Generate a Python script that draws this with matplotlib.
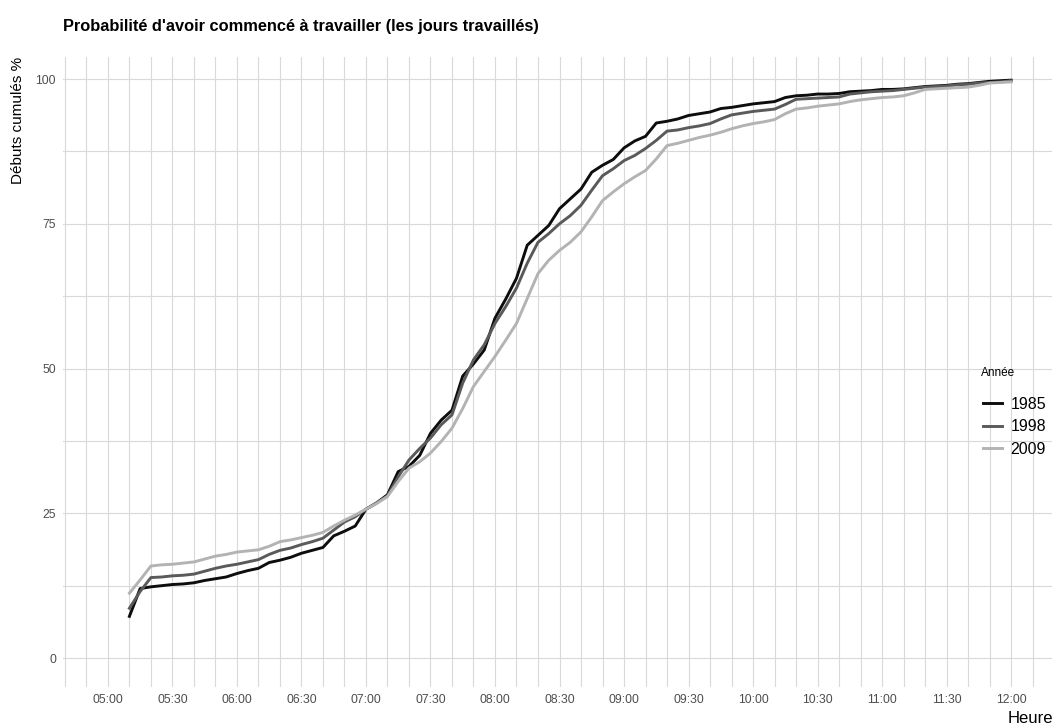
import numpy as np
import matplotlib
matplotlib.use("Agg")
import matplotlib.pyplot as plt
from matplotlib.ticker import FixedLocator, FuncFormatter

plt.rcParams['font.family'] = ['Liberation Sans', 'DejaVu Sans']

# heures de début (minutes depuis minuit), pas de 5 minutes de 05:10 à 12:00
heures = np.arange(310, 721, 5)

annees = ['1985', '1998', '2009']

debuts_1985 = [7.2, 12.0, 12.3, 12.5, 12.7, 12.8, 13.0, 13.4, 13.7, 14.0, 14.6, 15.1, 15.5, 16.5, 16.9, 17.4, 18.1, 18.6, 19.1, 21.1, 21.9, 22.8,
               25.7, 26.8, 28.2, 32.2, 33.1, 35.0, 38.8, 41.1, 42.8, 48.7, 50.8, 53.2, 58.7, 62.0, 65.6, 71.3, 73.0,
               74.7, 77.6, 79.3, 81.0, 83.9, 85.1, 86.1, 88.1, 89.3, 90.1, 92.4, 92.7, 93.1, 93.7, 94.0, 94.3, 94.9, 95.1, 95.4, 95.7, 95.9,
               96.1, 96.8, 97.1, 97.2, 97.4, 97.4, 97.5, 97.8, 97.9, 98.0, 98.2, 98.2, 98.3, 98.5, 98.7, 98.8, 98.9, 99.1, 99.2, 99.4, 99.6, 99.7, 99.8]

debuts_1998 = [8.6, 11.5, 13.9, 14.0, 14.2, 14.3, 14.5, 15.0, 15.5, 15.9, 16.2, 16.6, 17.0, 17.9, 18.6, 19.0, 19.6, 20.1, 20.7, 22.1, 23.5, 24.4,
               25.7, 26.8, 28.0, 31.3, 34.2, 36.2, 38.0, 40.3, 42.0, 47.5, 51.5, 54.1, 57.8, 60.7, 63.9, 68.2, 71.8,
               73.3, 75.0, 76.4, 78.2, 80.8, 83.3, 84.5, 85.9, 86.8, 88.0, 89.4, 91.0, 91.2, 91.6, 91.9, 92.3, 93.1, 93.8, 94.1, 94.4, 94.6,
               94.8, 95.6, 96.5, 96.6, 96.7, 96.8, 96.9, 97.4, 97.6, 97.8, 97.9, 98.0, 98.2, 98.4, 98.6, 98.7, 98.8, 99.0, 99.1, 99.3, 99.4, 99.5, 99.7]

debuts_2009 = [11.2, 13.5, 15.9, 16.1, 16.2, 16.4, 16.6, 17.1, 17.6, 17.9, 18.3, 18.5, 18.7, 19.3, 20.1, 20.4, 20.8, 21.2, 21.7, 22.8, 23.8, 24.7,
               25.7, 26.7, 27.9, 30.5, 32.8, 33.9, 35.4, 37.4, 39.7, 43.1, 46.9, 49.5, 52.1, 54.9, 57.8, 62.1, 66.4,
               68.7, 70.4, 71.8, 73.6, 76.2, 79.0, 80.5, 81.9, 83.1, 84.2, 86.2, 88.5, 88.9, 89.4, 89.9, 90.3, 90.8, 91.4, 91.9, 92.3, 92.6,
               93.0, 94.0, 94.8, 95.0, 95.3, 95.5, 95.7, 96.1, 96.4, 96.6, 96.8, 96.9, 97.1, 97.6, 98.2, 98.3, 98.4, 98.5, 98.6, 98.9, 99.3, 99.4, 99.5]

couleurs = ['#0d0d0d', '#5a5a5a', '#b3b3b3']

fig = plt.figure(figsize=(10.58, 7.27), dpi=100)
ax = fig.add_axes([0.0595, 0.055, 0.935, 0.8666])

for annee, serie, c in zip(annees, [debuts_1985, debuts_1998, debuts_2009], couleurs):
    ax.plot(heures, serie, color=c, lw=2.1, label=annee)

ax.set_xlim(279.1, 739.1)
ax.set_ylim(-5.0, 103.8)

# grille : toutes les 10 minutes, et tous les 12.5 %
ax.xaxis.set_major_locator(FixedLocator(np.arange(300, 721, 30)))
ax.xaxis.set_minor_locator(FixedLocator(np.arange(270, 750, 10)))
ax.xaxis.set_major_formatter(FuncFormatter(lambda m, p: f"{int(m // 60):02d}:{int(m % 60):02d}"))
ax.yaxis.set_major_locator(FixedLocator([0, 25, 50, 75, 100]))
ax.yaxis.set_minor_locator(FixedLocator([12.5, 37.5, 62.5, 87.5]))
ax.grid(True, which='both', color='#d9d9d9', lw=0.8)
ax.set_axisbelow(True)
for s in ax.spines.values():
    s.set_visible(False)
ax.tick_params(which='both', length=0)
ax.tick_params(axis='x', labelsize=8.8, labelcolor='#4d4d4d', pad=5)
ax.tick_params(axis='y', labelsize=8.8, labelcolor='#4d4d4d', pad=5)

fig.text(0.0595, 0.963, "Probabilité d'avoir commencé à travailler (les jours travaillés)",
         fontsize=11.8, fontweight='bold', va='center', ha='left')
fig.text(0.017, 0.922, "Débuts cumulés %", rotation=90, fontsize=11, ha='center', va='top')
fig.text(0.995, 0.0055, "Heure", fontsize=12, ha='right', va='baseline')

# légende : titre à part pour régler l'écart avec les entrées
fig.text(0.927, 1 - 373 / 727, 'Année', fontsize=8.5, ha='left', va='center')
leg = ax.legend(loc='upper left', bbox_to_anchor=(0.9218, 1 - 389 / 727),
                bbox_transform=fig.transFigure, frameon=False, fontsize=11.5,
                handlelength=1.15, handletextpad=0.55,
                labelspacing=0.46, borderpad=0)

fig.savefig('out.png', dpi=100)
